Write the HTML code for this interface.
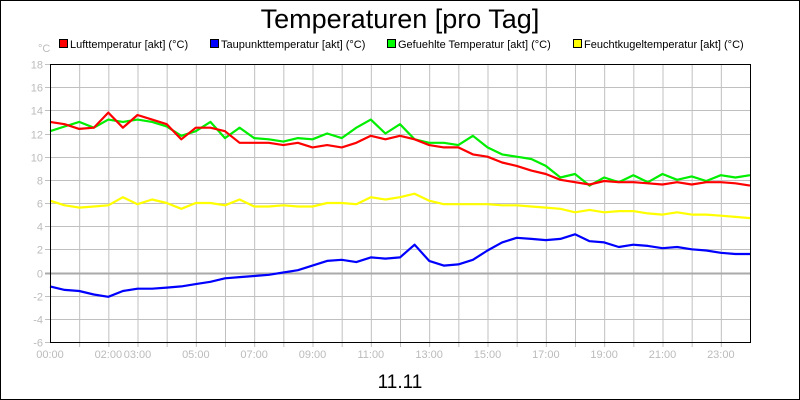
<!DOCTYPE html>
<html><head><meta charset="utf-8"><style>
body{margin:0;background:#fff}
svg{display:block;font-family:"Liberation Sans",sans-serif}
</style></head><body>
<svg id="chart" width="800" height="400" viewBox="0 0 800 400">
<rect x="0.5" y="0.5" width="799" height="399" fill="#fff" stroke="#000"/>
<text x="400" y="28" font-size="27" text-anchor="middle">Temperaturen [pro Tag]</text>
<g font-size="11">
<g><rect x="59.5" y="39.5" width="8" height="8" fill="#f00" stroke="#000"/><text x="70" y="48">Lufttemperatur [akt] (°C)</text></g>
<g><rect x="210.5" y="39.5" width="8" height="8" fill="#00f" stroke="#000"/><text x="221" y="48">Taupunkttemperatur [akt] (°C)</text></g>
<g><rect x="387.5" y="39.5" width="8" height="8" fill="#0f0" stroke="#000"/><text x="398" y="48">Gefuehlte Temperatur [akt] (°C)</text></g>
<g><rect x="573.5" y="39.5" width="8" height="8" fill="#ff0" stroke="#000"/><text x="584" y="48">Feuchtkugeltemperatur [akt] (°C)</text></g>
</g>
<text x="38" y="52" font-size="11" fill="#bbb">°C</text>
<g id="grid"></g>
<g id="series"></g>
<g id="axes"></g>
<text x="400" y="388" font-size="19" text-anchor="middle">11.11</text>
</svg>
<script>
const yTicks=[-6,-4,-2,0,2,4,6,8,10,12,14,16,18];
const xTickLabels=["00:00","02:00","03:00","05:00","07:00","09:00","11:00","13:00","15:00","17:00","19:00","21:00","23:00"];
const xTickHours=[0,2,3,5,7,9,11,13,15,17,19,21,23];
const hours=[];for(let i=0;i<=48;i++)hours.push(i/2);
const luft=[13.0,12.8,12.4,12.5,13.8,12.5,13.6,13.2,12.8,11.5,12.5,12.5,12.2,11.2,11.2,11.2,11.0,11.2,10.8,11.0,10.8,11.2,11.8,11.5,11.8,11.5,11.0,10.8,10.8,10.2,10.0,9.5,9.2,8.8,8.5,8.0,7.8,7.6,7.9,7.8,7.8,7.7,7.6,7.8,7.6,7.8,7.8,7.7,7.5];
const gefuehlt=[12.2,12.6,13.0,12.5,13.2,13.0,13.2,13.0,12.6,11.8,12.2,13.0,11.6,12.5,11.6,11.5,11.3,11.6,11.5,12.0,11.6,12.5,13.2,12.0,12.8,11.5,11.2,11.2,11.0,11.8,10.8,10.2,10.0,9.8,9.2,8.2,8.5,7.5,8.2,7.8,8.4,7.8,8.5,8.0,8.3,7.9,8.4,8.2,8.4];
const feucht=[6.2,5.8,5.6,5.7,5.8,6.5,5.9,6.3,6.0,5.5,6.0,6.0,5.8,6.3,5.7,5.7,5.8,5.7,5.7,6.0,6.0,5.9,6.5,6.3,6.5,6.8,6.2,5.9,5.9,5.9,5.9,5.8,5.8,5.7,5.6,5.5,5.2,5.4,5.2,5.3,5.3,5.1,5.0,5.2,5.0,5.0,4.9,4.8,4.7];
const taupunkt=[-1.2,-1.5,-1.6,-1.9,-2.1,-1.6,-1.4,-1.4,-1.3,-1.2,-1.0,-0.8,-0.5,-0.4,-0.3,-0.2,0.0,0.2,0.6,1.0,1.1,0.9,1.3,1.2,1.3,2.4,1.0,0.6,0.7,1.1,1.9,2.6,3.0,2.9,2.8,2.9,3.3,2.7,2.6,2.2,2.4,2.3,2.1,2.2,2.0,1.9,1.7,1.6,1.6];
const X0=50,X1=750,Y0=342,Y1=64;
const xs=h=>X0+(X1-X0)*h/24;
const ys=v=>Y0-(Y0-Y1)*(v+6)/24;
const NS="http://www.w3.org/2000/svg";
const mk=(t,a,p)=>{const e=document.createElementNS(NS,t);for(const k in a)e.setAttribute(k,a[k]);p.appendChild(e);return e;};
const grid=document.getElementById('grid'),axes=document.getElementById('axes'),ser=document.getElementById('series');
for(let h=1;h<24;h++){const l=mk('line',{x1:xs(h)+.5,x2:xs(h)+.5,y1:Y1,y2:Y0+5,stroke:'#c0c0c0'},grid);

}
yTicks.forEach(v=>{const y=Math.round(ys(v))+.5;const l=mk('line',{x1:X0-5,x2:X1,y1:y,y2:y,stroke:v===0?'#aaa':'#c0c0c0','stroke-width':v===0?2:1},grid);


const t=mk('text',{x:X0-7,y:y+4,'font-size':11,fill:'#bbb','text-anchor':'end'},axes);t.textContent=v;

});
xTickHours.forEach((h,i)=>{const t=mk('text',{x:xs(h),y:358,'font-size':11,fill:'#bbb','text-anchor':'middle'},axes);t.textContent=xTickLabels[i];

});
const series=[[gefuehlt,'#00ee00','line-gefuehlt'],[feucht,'#ffff00','line-feuchtkugel'],[taupunkt,'#0000ff','line-taupunkt'],[luft,'#ff0000','line-luft']];
series.forEach(([d,c,n])=>{const p=mk('polyline',{points:d.map((v,i)=>xs(hours[i]).toFixed(1)+','+ys(v).toFixed(1)).join(' '),fill:'none',stroke:c,'stroke-width':2.2,'stroke-linejoin':'round'},ser);

});
const f=mk('rect',{x:X0+.5,y:Y1+.5,width:X1-X0,height:Y0-Y1,fill:'none',stroke:'#000'},axes);


</script>
</body></html>
